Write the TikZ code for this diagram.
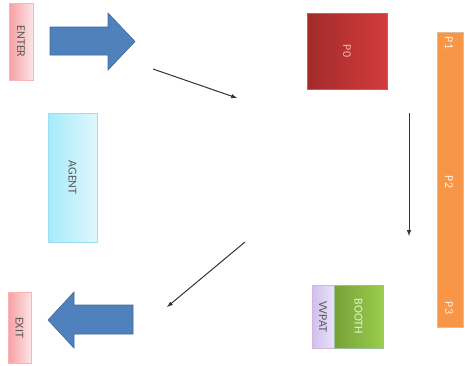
\documentclass[tikz,border=0pt]{standalone}
\usepackage{fontspec}
\setmainfont{Carlito}
\usetikzlibrary{arrows}

\begin{document}
\begin{tikzpicture}[
x=1pt,y=-1pt,
box/.style={
  draw=#1,
  line width=0.6pt,
  inner sep=0pt,
  },
lbl/.style={
  rotate=-90,
  inner sep=0pt,
  font=\fontsize{12}{12}\selectfont,
  },
bigarrow/.style={
  fill={rgb,255:red,79;green,129;blue,189},
  draw={rgb,255:red,62;green,104;blue,155},
  line width=0.6pt,
  },
flow/.style={
  ->,
  draw=black!80,
  line width=1pt,
  },
>=latex]
\useasboundingbox (0,0) rectangle (465,365);

% boxes
\node [box=red!30, left color={rgb,255:red,246;green,160;blue,166}, right color={rgb,255:red,253;green,228;blue,228},
  minimum width=24pt, minimum height=77pt] (enter) at (21,41.5) {};
\node [lbl, text=black!65] at (enter) {ENTER};

\node [box=cyan!40, left color={rgb,255:red,166;green,234;blue,250}, right color={rgb,255:red,224;green,247;blue,253},
  minimum width=49pt, minimum height=129pt] (agent) at (72.5,177.5) {};
\node [lbl, text=black!65] at (agent) {AGENT};

\node [box=red!50!black!60, left color={rgb,255:red,163;green,42;blue,42}, right color={rgb,255:red,211;green,60;blue,60},
  minimum width=80pt, minimum height=76pt] (p0) at (347,51) {};
\node [lbl, text={rgb,255:red,240;green,180;blue,180}] at (p0) {P0};

\node [box=orange!70!black!40, fill={rgb,255:red,247;green,150;blue,70},
  minimum width=26pt, minimum height=295pt] (pbar) at (450,179.5) {};
\node [lbl, text=white!90!orange] (p1) at (449,43) {P1};
\node [lbl, text=white!90!orange] (p2) at (449,182) {P2};
\node [lbl, text=white!90!orange] (p3) at (449,308) {P3};

\node [box=violet!30, left color={rgb,255:red,206;green,193;blue,238}, right color={rgb,255:red,232;green,225;blue,249},
  minimum width=22pt, minimum height=63pt] (vvpat) at (323,316.5) {};
\node [lbl, text=black!65] at (vvpat) {VVPAT};

\node [box=green!40!black!40, left color={rgb,255:red,118;green,161;blue,54}, right color={rgb,255:red,155;green,204;blue,78},
  minimum width=49pt, minimum height=63pt] (booth) at (358.5,316.5) {};
\node [lbl, text={rgb,255:red,228;green,242;blue,205}] at (booth) {BOOTH};

\node [box=red!30, left color={rgb,255:red,246;green,160;blue,166}, right color={rgb,255:red,253;green,228;blue,228},
  minimum width=23pt, minimum height=71pt] (exit) at (19.5,327.5) {};
\node [lbl, text=black!65] at (exit) {EXIT};

% big arrows
\draw [bigarrow] (50,27) -- (108,27) -- (108,13) -- (135,41.5) -- (108,70) -- (108,55) -- (50,55) -- cycle;
\draw [bigarrow] (133,305) -- (74,305) -- (74,292) -- (48,320) -- (74,348) -- (74,334) -- (133,334) -- cycle;

% flow
\coordinate (a1s) at (153,69);
\coordinate (a1e) at (237,98);
\coordinate (a2s) at (409,113);
\coordinate (a2e) at (409,236);
\coordinate (a3s) at (245,242);
\coordinate (a3e) at (167,307);
\draw [flow] (a1s) -- (a1e);
\draw [flow] (a2s) -- (a2e);
\draw [flow] (a3s) -- (a3e);

\end{tikzpicture}
\end{document}
